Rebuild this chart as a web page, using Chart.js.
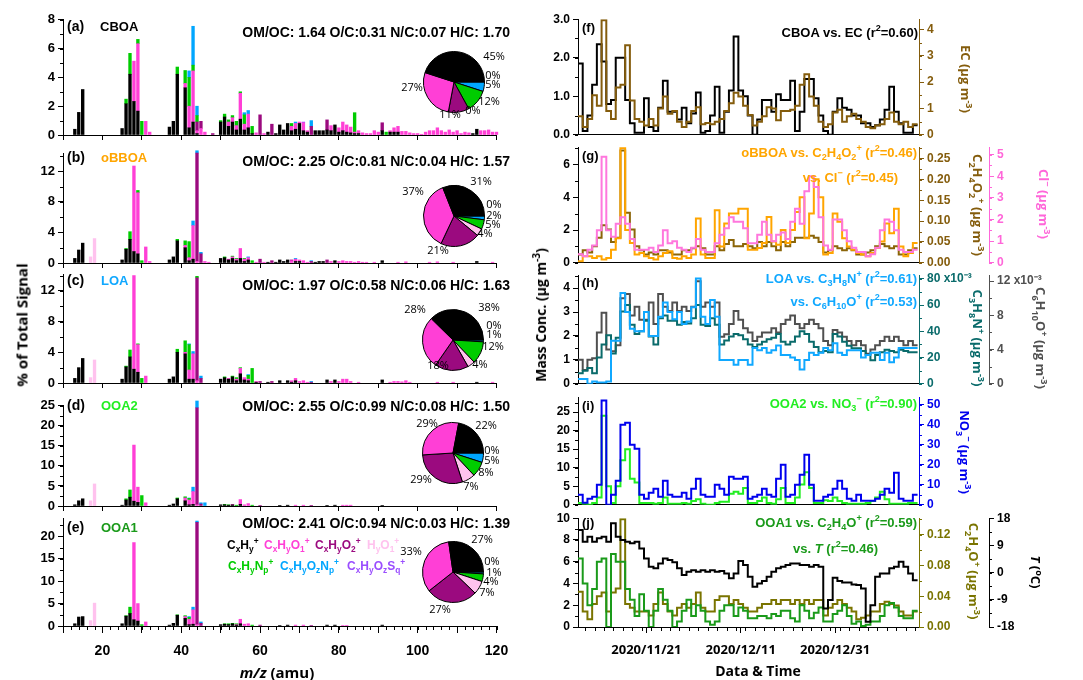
<!DOCTYPE html>
<html>
<head>
<meta charset="utf-8">
<script src="https://cdn.jsdelivr.net/npm/chart.js@4.4.1/dist/chart.umd.min.js"></script>
<style>
  html, body { margin: 0; padding: 0; background: #fff; }
  #page { position: relative; width: 1083px; height: 680px; overflow: hidden; background: #fff;
          font-family: "Liberation Sans", Arial, sans-serif; font-weight: bold; color: #000; }
  canvas { position: absolute; }
  .t { position: absolute; white-space: nowrap; line-height: 1; transform: translateY(-50%); z-index: 2; }
  .r { transform: translate(-100%, -50%); }
  .c { transform: translate(-50%, -50%); }
  .up { transform: translate(-50%, -50%) rotate(-90deg); }
  .dn { transform: translate(-50%, -50%) rotate(90deg); }
  sub, sup { font-size: 70%; line-height: 0; }
  .seg { font-family: "Open Sans", "Noto Sans", sans-serif; }
</style>
</head>
<body>
<div id="page">
  <!-- left column annotations -->
  <div class="t" style="left:67px;top:26px;font-size:14px">(a)</div>
  <div class="t" style="left:100px;top:26px;font-size:13px">CBOA</div>
  <div class="t r" style="left:510px;top:32px;font-size:14px">OM/OC: 1.64 O/C:0.31 N/C:0.07 H/C: 1.70</div>

  <div class="t" style="left:67px;top:157px;font-size:14px">(b)</div>
  <div class="t" style="left:101px;top:157px;font-size:13px;color:#ffa500">oBBOA</div>
  <div class="t r" style="left:510px;top:161px;font-size:14px">OM/OC: 2.25 O/C:0.81 N/C:0.04 H/C: 1.57</div>

  <div class="t" style="left:67px;top:280px;font-size:14px">(c)</div>
  <div class="t" style="left:101px;top:280px;font-size:13px;color:#10a8ff">LOA</div>
  <div class="t r" style="left:510px;top:285px;font-size:14px">OM/OC: 1.97 O/C:0.58 N/C:0.06 H/C: 1.63</div>

  <div class="t" style="left:67px;top:405px;font-size:14px">(d)</div>
  <div class="t" style="left:101px;top:405px;font-size:13px;color:#22ee22">OOA2</div>
  <div class="t r" style="left:510px;top:406px;font-size:14px">OM/OC: 2.55 O/C:0.99 N/C:0.08 H/C: 1.50</div>

  <div class="t" style="left:67px;top:527px;font-size:14px">(e)</div>
  <div class="t" style="left:101px;top:527px;font-size:13px;color:#1a9a1a">OOA1</div>
  <div class="t r" style="left:510px;top:523px;font-size:14px">OM/OC: 2.41 O/C:0.94 N/C:0.03 H/C: 1.39</div>

  <!-- family legend -->
  <div class="t" style="left:227px;top:545px;font-size:12px;color:#000">C<sub>x</sub>H<sub>y</sub><sup>+</sup></div>
  <div class="t" style="left:264px;top:545px;font-size:12px;color:#ff3fd6">C<sub>x</sub>H<sub>y</sub>O<sub>1</sub><sup>+</sup></div>
  <div class="t" style="left:315px;top:545px;font-size:12px;color:#9b0a7f">C<sub>x</sub>H<sub>y</sub>O<sub>2</sub><sup>+</sup></div>
  <div class="t" style="left:367px;top:545px;font-size:12px;color:#ffc2ee">H<sub>y</sub>O<sub>1</sub><sup>+</sup></div>
  <div class="t" style="left:228px;top:566px;font-size:12px;color:#00cc00">C<sub>x</sub>H<sub>y</sub>N<sub>p</sub><sup>+</sup></div>
  <div class="t" style="left:280px;top:566px;font-size:12px;color:#00a6ff">C<sub>x</sub>H<sub>y</sub>O<sub>z</sub>N<sub>p</sub><sup>+</sup></div>
  <div class="t" style="left:347px;top:566px;font-size:12px;color:#9a4dff">C<sub>x</sub>H<sub>y</sub>O<sub>z</sub>S<sub>q</sub><sup>+</sup></div>

  <!-- right column annotations -->
  <div class="t" style="left:582px;top:27px;font-size:13px">(f)</div>
  <div class="t r" style="left:918px;top:32px;font-size:13px">CBOA vs. EC (r<sup>2</sup>=0.60)</div>

  <div class="t" style="left:582px;top:155px;font-size:13px">(g)</div>
  <div class="t r" style="left:917px;top:152px;font-size:13px;color:#ffa500">oBBOA vs. C<sub>2</sub>H<sub>4</sub>O<sub>2</sub><sup>+</sup> (r<sup>2</sup>=0.46)</div>
  <div class="t r" style="left:898px;top:177px;font-size:13px;color:#ffa500">vs. Cl<sup>&minus;</sup> (r<sup>2</sup>=0.45)</div>

  <div class="t" style="left:582px;top:282px;font-size:13px">(h)</div>
  <div class="t r" style="left:917px;top:278px;font-size:13px;color:#10a8ff">LOA vs. C<sub>3</sub>H<sub>8</sub>N<sup>+</sup> (r<sup>2</sup>=0.61)</div>
  <div class="t r" style="left:917px;top:301px;font-size:13px;color:#10a8ff">vs. C<sub>6</sub>H<sub>10</sub>O<sup>+</sup> (r<sup>2</sup>=0.53)</div>

  <div class="t" style="left:582px;top:405px;font-size:13px">(i)</div>
  <div class="t r" style="left:917px;top:403px;font-size:13px;color:#22ee22">OOA2 vs. NO<sub>3</sub><sup>&minus;</sup> (r<sup>2</sup>=0.90)</div>

  <div class="t" style="left:582px;top:522px;font-size:13px">(j)</div>
  <div class="t r" style="left:917px;top:522px;font-size:13px;color:#1a9a1a">OOA1 vs. C<sub>2</sub>H<sub>4</sub>O<sup>+</sup> (r<sup>2</sup>=0.59)</div>
  <div class="t r" style="left:878px;top:548px;font-size:13px;color:#1a9a1a">vs. <i>T</i> (r<sup>2</sup>=0.46)</div>

  <!-- right axis titles -->
  <div class="t dn seg" style="left:965px;top:79px;font-size:13px;color:#845c0c">EC (µg m<sup>-3</sup>)</div>
  <div class="t dn seg" style="left:977px;top:205px;font-size:13px;color:#845c0c">C<sub>2</sub>H<sub>4</sub>O<sub>2</sub><sup>+</sup> (µg m<sup>-3</sup>)</div>
  <div class="t dn seg" style="left:1043px;top:204px;font-size:13px;color:#ff66d9">Cl<sup>&minus;</sup> (µg m<sup>-3</sup>)</div>
  <div class="t dn seg" style="left:977px;top:338px;font-size:13px;color:#0a6b6b">C<sub>3</sub>H<sub>8</sub>N<sup>+</sup> (µg m<sup>-3</sup>)</div>
  <div class="t dn seg" style="left:1040px;top:338px;font-size:13px;color:#505050">C<sub>6</sub>H<sub>10</sub>O<sup>+</sup> (µg m<sup>-3</sup>)</div>
  <div class="t dn seg" style="left:964px;top:452px;font-size:13px;color:#0000ee">NO<sub>3</sub><sup>&minus;</sup> (µg m<sup>-3</sup>)</div>
  <div class="t dn seg" style="left:973px;top:571px;font-size:13px;color:#7a7400">C<sub>2</sub>H<sub>4</sub>O<sup>+</sup> (µg m<sup>-3</sup>)</div>
  <div class="t dn seg" style="left:1035px;top:572px;font-size:13px"><i>T</i> (<sup>o</sup>C)</div>

  <!-- shared axis titles -->
  <div class="t up seg" style="left:22px;top:325px;font-size:15px">% of Total Signal</div>
  <div class="t up seg" style="left:541px;top:315px;font-size:14px">Mass Conc. (µg m<sup>-3</sup>)</div>
  <div class="t c seg" style="left:277px;top:672px;font-size:15px"><i>m/z</i> (amu)</div>
  <div class="t c seg" style="left:758px;top:671px;font-size:14px">Data &amp; Time</div>
</div>

<script>
// ---------- ion families ----------
const famNames  = ['CxHy', 'CxHyO1', 'CxHyO2', 'HyO1', 'CxHyNp', 'CxHyOzNp', 'CxHyOzSq'];
const famColors = ['#000000', '#ff3fd6', '#9b0a7f', '#ffc2ee', '#00cc00', '#00a6ff', '#9a4dff'];

// ---------- mass spectra: [m/z, % of total signal] ----------
// (a) CBOA
const cboaCxHy = [[13,0.4],[14,1.57],[15,3.16],[25,0.45],[26,2.17],[27,4.22],[28,2.33],[29,1.66],[37,0.55],[38,0.95],[39,4.22],[41,3.28],[42,0.5],[43,0.9],[44,0.1],[50,0.9],[51,1.25],[52,0.6],[53,0.9],[54,0.35],[55,1.1],[56,0.35],[57,0.5],[58,0.1],[62,0.2],[64,0.1],[65,0.7],[66,0.35],[67,0.8],[68,0.3],[69,0.4],[70,0.8],[71,0.3],[72,0.2],[74,0.3],[75,0.3],[76,0.3],[77,0.35],[78,0.3],[79,0.7],[80,0.2],[81,0.3],[82,0.2],[83,0.15],[84,0.1],[85,0.1],[91,0.3],[93,0.2],[94,0.2],[95,0.2],[114,0.1],[115,0.4]];
const cboaO1 = [[28,2.8],[29,4.68],[31,0.95],[32,0.2],[41,0.3],[42,1.5],[43,3.55],[44,0.2],[45,0.45],[46,0.2],[52,0.3],[53,0.3],[54,0.3],[55,1.8],[56,0.4],[57,0.95],[59,0.15],[61,0.1],[68,0.3],[69,0.4],[70,0.1],[71,0.55],[72,0.1],[78,0.35],[80,0.3],[81,0.6],[82,0.5],[83,0.4],[84,0.1],[85,0.2],[86,0.15],[87,0.1],[88,0.1],[89,0.3],[90,0.2],[93,0.1],[94,0.3],[95,0.4],[96,0.25],[97,0.25],[98,0.15],[99,0.1],[100,0.1],[101,0.05],[102,0.2],[103,0.3],[104,0.3],[105,0.5],[106,0.3],[107,0.2],[108,0.35],[109,0.2],[110,0.3],[111,0.1],[112,0.2],[113,0.15],[116,0.3],[117,0.3],[118,0.35],[119,0.2],[120,0.2]];
const cboaO2 = [[44,0.6],[45,0.5],[48,0.1],[60,1.4],[63,0.75],[73,0.6],[77,0.7],[91,0.55]];
const cboaHyO1 = [];
const cboaNp = [[26,0.32],[27,1.45],[29,0.3],[30,0.95],[39,0.5],[41,0.9],[42,2.0],[43,0.4],[44,0.45],[50,0.1],[51,0.2],[52,0.15],[53,0.15],[54,0.3],[55,0.1],[56,0.65],[58,0.5],[68,0.2],[84,1.35],[92,0.2]];
const cboaOzNp = [[42,0.45],[43,2.7],[44,0.65],[56,0.15],[57,0.25],[69,0.1],[73,0.4]];
const cboaOzSq = [[71,0.05]];

// (b) oBBOA
const obboaCxHy = [[13,0.6],[14,1.7],[15,2.6],[25,0.4],[26,1.8],[27,3.1],[28,1.5],[29,1.2],[37,0.4],[38,0.8],[39,2.9],[41,2.0],[42,0.3],[43,0.5],[50,0.6],[51,0.7],[52,0.4],[53,0.6],[54,0.3],[55,0.6],[56,0.2],[57,0.4],[62,0.1],[64,0.1],[65,0.4],[66,0.2],[67,0.4],[69,0.2],[70,0.2],[74,0.1],[75,0.2],[76,0.2],[79,0.3],[91,0.3],[115,0.2]];
const obboaO1 = [[28,11.2],[29,8.0],[31,2.1],[32,0.2],[41,0.3],[42,0.4],[43,4.4],[44,0.2],[46,0.2],[47,0.1],[52,0.1],[53,0.2],[54,0.2],[55,1.3],[56,0.3],[57,0.3],[59,0.1],[61,0.1],[68,0.3],[69,0.3],[70,0.2],[71,0.3],[72,0.1],[78,0.2],[80,0.2],[81,0.3],[82,0.2],[83,0.2],[84,0.1],[85,0.2],[86,0.1],[87,0.1],[89,0.1],[95,0.1],[97,0.15],[103,0.1],[105,0.15],[109,0.1],[119,0.1]];
const obboaO2 = [[44,14.2],[45,1.2],[60,0.5],[63,0.3],[68,0.1],[73,0.2],[77,0.4]];
const obboaHyO1 = [[17,0.8],[18,3.2]];
const obboaNp = [[26,0.1],[27,1.0],[29,0.3],[30,0.3],[39,0.2],[41,0.6],[42,2.1],[51,0.1],[53,0.1],[54,0.1],[56,0.1],[58,0.3]];
const obboaOzNp = [[43,0.6],[44,0.3],[45,0.2],[57,0.1],[69,0.1],[73,0.1]];
const obboaOzSq = [];

// (c) LOA
const loaCxHy = [[13,0.6],[14,2.0],[15,3.2],[25,0.5],[26,2.1],[27,3.4],[28,1.8],[29,1.4],[37,0.5],[38,0.8],[39,4.0],[41,3.8],[42,0.5],[43,0.5],[50,0.5],[51,0.7],[52,0.5],[53,0.8],[54,0.3],[55,1.2],[56,0.4],[57,0.3],[59,0.1],[62,0.1],[65,0.3],[67,0.3],[68,0.1],[69,0.3],[77,0.4],[79,0.4],[91,0.4],[115,0.1]];
const loaO1 = [[28,12.2],[29,3.6],[31,0.9],[41,0.2],[42,1.2],[43,3.3],[44,0.3],[52,0.1],[54,0.2],[55,0.7],[56,0.3],[57,0.2],[59,0.1],[68,0.2],[69,0.3],[70,0.2],[71,0.3],[72,0.1],[78,0.2],[80,0.2],[81,0.5],[82,0.5],[83,0.2],[85,0.1],[93,0.1],[94,0.2],[95,0.2],[96,0.15],[97,0.3],[98,0.1],[105,0.1],[109,0.1],[119,0.1]];
const loaO2 = [[44,13.4],[45,0.6],[60,0.2],[63,0.2],[73,0.1]];
const loaHyO1 = [[17,0.7],[18,3.0]];
const loaNp = [[26,0.1],[27,0.9],[29,0.1],[30,0.6],[39,0.4],[41,1.5],[42,3.3],[44,0.2],[51,0.1],[53,0.1],[54,0.2],[55,0.1],[57,0.5],[58,1.9]];
const loaOzNp = [[42,0.1],[43,0.3],[45,0.3],[57,0.1],[73,0.1]];
const loaOzSq = [];

// (d) OOA2
const ooa2CxHy = [[13,0.3],[14,1.3],[15,1.8],[25,0.2],[26,1.5],[27,2.2],[28,1.2],[29,0.9],[37,0.2],[38,0.5],[39,1.8],[41,1.3],[42,0.3],[43,0.4],[50,0.3],[51,0.3],[52,0.2],[53,0.3],[55,0.4],[65,0.1],[67,0.2],[77,0.1],[79,0.2],[91,0.1]];
const ooa2O1 = [[28,14.0],[29,3.8],[31,0.8],[41,0.7],[42,1.2],[43,3.2],[44,0.3],[53,0.1],[55,1.2],[56,0.3],[57,0.6],[69,0.2],[71,0.2],[81,0.2],[82,0.2],[83,0.2]];
const ooa2O2 = [[44,24.2],[45,0.5],[60,0.1],[73,0.1]];
const ooa2HyO1 = [[17,1.3],[18,5.5]];
const ooa2Np = [[26,0.3],[27,1.8],[30,2.6],[39,0.2],[41,0.3],[42,0.4],[51,0.1],[52,0.1],[54,0.2],[58,0.2]];
const ooa2OzNp = [[42,0.1],[43,1.1],[44,1.7],[45,0.3],[46,0.8]];
const ooa2OzSq = [];

// (e) OOA1
const ooa1CxHy = [[13,0.5],[14,2.0],[15,2.1],[25,0.5],[26,2.2],[27,2.8],[28,1.4],[29,1.1],[37,0.2],[38,0.6],[39,2.4],[41,1.7],[42,0.3],[43,0.4],[50,0.3],[51,0.4],[52,0.3],[53,0.5],[54,0.2],[55,0.5],[65,0.1],[67,0.2],[77,0.2],[79,0.2],[91,0.2]];
const ooa1O1 = [[28,17.2],[29,3.9],[31,0.9],[41,0.4],[42,1.2],[43,3.2],[44,0.3],[54,0.1],[55,1.0],[56,0.4],[57,0.5],[69,0.2],[71,0.2],[81,0.1],[82,0.1]];
const ooa1O2 = [[44,22.8],[45,0.6],[60,0.2],[73,0.1]];
const ooa1HyO1 = [[17,1.2],[18,5.1]];
const ooa1Np = [[26,0.1],[27,1.4],[30,0.3],[39,0.1],[41,0.2],[42,0.4],[51,0.1],[52,0.2],[53,0.1],[54,0.2],[58,0.2]];
const ooa1OzNp = [[42,0.2],[43,0.6],[44,0.3],[45,0.3]];
const ooa1OzSq = [];

// ---------- family fractions (%) for the pies ----------
const pieCBOA  = [45, 27, 11, 0, 12, 5, 0];
const pieOBBOA = [31, 37, 21, 4, 5, 2, 0];
const pieLOA   = [38, 28, 18, 4, 12, 1, 0];
const pieOOA2  = [22, 29, 29, 7, 8, 5, 0];
const pieOOA1  = [27, 33, 27, 7, 4, 1, 0];

// ---------- time series (daily, first value starts 2020/11/06 12:00) ----------
const day0 = 6.5;            // x in days of November 2020
const dateTicks = [21, 41, 61];
const cboaTS = [1.85,0.1,0.5,1.3,2.35,1.9,0.8,0.9,2.0,2.0,0.9,0.3, 0.05,0.05,0.95,0.2,0.1,0.7,1.4,0.6,0.6,0.4,0.7,0.3, 0.55,1.1,0.05,0.1,0.5,1.25,0.05,0.6,1.15,2.55,1.15,1.0, 0.5,0.0,0.4,0.9,0.9,0.6,1.05,0.9,0.9,1.4,0.1,0.6, 1.45,1.45,0.95,0.5,0.1,0.0,0.6,0.95,0.7,0.65,0.5,0.5, 0.3,0.3,0.2,0.25,0.4,0.65,1.25,0.6,0.3,0.05,0.05,0.25];
const ecTS = [0.7,0.3,0.6,1.5,1.1,4.35,0.9,0.6,1.8,1.9,3.4,1.3, 0.6,0.5,0.35,0.6,0.35,1.0,1.45,0.8,0.9,0.5,0.3,0.5, 0.9,1.05,0.4,0.45,0.4,0.5,0.6,0.9,1.2,1.6,1.45,1.1, 0.75,0.35,0.5,0.7,1.05,1.0,0.55,0.9,0.9,0.95,1.1,1.9, 2.3,1.45,1.1,0.5,0.3,0.4,0.85,0.95,0.5,0.7,0.8,0.6, 0.5,0.3,0.25,0.35,0.4,0.6,0.85,0.5,0.4,0.5,0.3,0.4];
const obboaTS = [0.1,0.4,0.4,0.3,0.4,0.2,0.3,0.8,1.5,7.0,2.0,1.2, 0.5,0.6,0.4,0.3,0.2,0.4,0.6,0.7,0.3,0.25,0.4,0.3, 0.5,2.7,0.5,0.3,0.3,3.2,1.0,2.4,3.0,3.0,3.3,3.3, 0.8,0.8,0.9,1.2,2.8,1.3,1.1,2.0,1.2,2.0,3.1,4.0, 1.5,3.0,5.1,4.0,0.5,0.6,3.0,2.5,1.5,1.0,0.8,0.6, 0.5,0.4,0.6,0.9,1.3,2.4,1.8,3.3,1.0,0.4,0.6,1.2];
const c2h4o2TS = [0.02,0.03,0.025,0.04,0.06,0.09,0.08,0.05,0.06,0.27,0.12,0.08, 0.04,0.03,0.02,0.025,0.02,0.03,0.03,0.025,0.02,0.02,0.03,0.03, 0.035,0.04,0.035,0.02,0.02,0.04,0.03,0.045,0.055,0.04,0.04,0.045, 0.04,0.035,0.05,0.04,0.05,0.04,0.03,0.05,0.04,0.05,0.06,0.06, 0.06,0.065,0.06,0.05,0.025,0.03,0.04,0.035,0.03,0.035,0.03,0.02, 0.02,0.025,0.03,0.04,0.045,0.04,0.035,0.04,0.02,0.02,0.03,0.035];
const clTS = [0.4,0.3,0.6,0.8,1.5,4.9,1.5,1.2,1.8,2.1,1.8,1.1, 0.6,0.6,0.6,0.7,0.5,0.8,1.5,0.9,1.0,0.7,0.6,0.5, 0.7,1.1,0.6,0.5,0.5,0.9,1.3,1.6,2.1,1.9,1.9,1.6, 0.9,0.9,1.3,1.9,1.3,1.0,1.3,1.4,1.1,1.9,2.5,1.8, 3.3,4.0,3.5,2.1,0.8,0.6,2.0,2.0,1.5,1.0,0.7,0.5, 0.5,0.3,0.4,0.7,1.5,2.0,1.9,1.5,0.6,0.5,0.5,0.6];
const loaTS = [0.2,0.2,0.0,0.1,0.05,0.05,0.1,1.8,1.8,3.8,3.0,2.3, 2.2,2.2,3.0,2.0,2.0,2.8,3.4,3.0,2.7,3.0,2.5,2.6, 3.2,4.4,2.8,2.5,3.5,2.8,1.0,1.0,1.0,0.8,1.0,1.0, 0.8,1.5,1.4,1.5,1.3,1.4,1.6,1.2,1.2,1.1,1.0,0.6, 1.0,1.3,1.2,1.3,1.5,1.4,1.7,1.3,1.2,1.4,1.4,1.4, 1.1,1.2,1.3,1.3,1.0,1.3,0.9,1.1,1.5,1.5,1.5,1.5];
const c3h8nTS = [0.008,0.010,0.012,0.008,0.020,0.030,0.037,0.023,0.035,0.055,0.060,0.045, 0.038,0.040,0.048,0.036,0.030,0.050,0.052,0.048,0.048,0.045,0.047,0.046, 0.050,0.060,0.045,0.044,0.050,0.045,0.030,0.033,0.036,0.038,0.037,0.034, 0.030,0.028,0.030,0.032,0.034,0.035,0.038,0.032,0.030,0.032,0.036,0.040, 0.038,0.032,0.028,0.024,0.025,0.024,0.038,0.036,0.032,0.029,0.027,0.027, 0.025,0.022,0.018,0.022,0.024,0.026,0.025,0.024,0.026,0.025,0.024,0.024];
const c6h10oTS = [0.0028,0.0016,0.0028,0.0030,0.0060,0.0083,0.0040,0.0038,0.0045,0.0100,0.0105,0.0080, 0.0090,0.0075,0.0075,0.0095,0.0070,0.0105,0.0090,0.0085,0.0095,0.0085,0.0090,0.0085, 0.0090,0.0120,0.0090,0.0095,0.0090,0.0095,0.0055,0.0058,0.0070,0.0085,0.0075,0.0065, 0.0060,0.0050,0.0055,0.0060,0.0060,0.0065,0.0060,0.0070,0.0075,0.0080,0.0070,0.0065, 0.0070,0.0075,0.0070,0.0065,0.0050,0.0045,0.0063,0.0060,0.0055,0.0050,0.0045,0.0050, 0.0045,0.0035,0.0040,0.0045,0.0050,0.0055,0.0050,0.0055,0.0050,0.0045,0.0050,0.0045];
const ooa2TS = [0.5,0.3,0.0,0.5,2.0,24.0,5.0,0.5,5.0,12.0,15.0,7.0, 6.0,0.5,0.5,0.5,0.3,0.5,2.0,0.3,0.3,0.3,0.5,0.3, 1.0,1.5,0.3,0.0,0.0,0.5,0.8,0.8,3.0,3.5,3.0,4.5, 0.5,0.5,1.0,2.0,0.5,0.3,1.5,4.5,0.5,0.5,2.0,5.5, 8.8,4.5,0.5,0.5,1.2,1.0,2.0,1.0,0.5,0.3,0.3,0.3, 0.3,0.5,1.0,2.0,3.5,1.5,0.3,0.3,0.3,0.3,0.5,0.5];
const no3TS = [5,1,3,4,10,52,0,5,12,40,41,30, 28,5,3,6,8,4,12,5,4,4,6,3, 8,13,5,4,4,10,8,5,14,13,13,14, 3,4,5,8,5,4,13,20,4,5,10,15, 25,10,2,2,4,5,8,12,8,3,2,5, 2,2,2,3,5,8,6,16,3,2,2,5];
const ooa1TS = [6.3,4.0,2.0,3.5,6.0,6.3,0.0,6.7,6.0,6.0,3.5,2.5, 1.0,3.0,1.5,0.0,1.5,3.5,2.5,1.5,0.0,0.5,1.5,2.5, 1.0,2.0,1.5,0.5,0.2,0.5,1.5,2.0,2.0,1.0,1.8,1.5, 0.8,0.8,1.0,1.0,0.8,1.2,1.0,1.5,1.5,0.8,0.5,2.0, 1.5,0.8,1.3,1.8,0.5,0.5,1.2,1.5,2.0,1.0,0.3,0.5, 0.1,0.2,0.5,0.5,1.0,2.0,2.2,1.8,1.0,0.8,0.8,1.5];
const c2h4oTS = [0.046,0.02,0.01,0.03,0.04,0.045,0.02,0.045,0.05,0.14,0.03,0.025, 0.02,0.02,0.02,0.015,0.03,0.045,0.03,0.02,0.015,0.025,0.03,0.025, 0.03,0.045,0.025,0.02,0.02,0.035,0.04,0.04,0.03,0.035,0.03,0.025, 0.02,0.02,0.025,0.03,0.03,0.035,0.03,0.035,0.035,0.03,0.035,0.03, 0.035,0.03,0.035,0.035,0.015,0.025,0.03,0.035,0.03,0.025,0.02,0.01, 0.012,0.015,0.02,0.02,0.03,0.033,0.03,0.028,0.02,0.015,0.015,0.02];
const tempTS = [14.1,10.2,11.9,10.2,11.4,11.9,10.2,16.3,11.9,10.8,10.2,9.7, 10.2,8.0,4.7,1.9,1.4,3.0,4.7,4.2,3.4,1.4,-0.8,0.3, 0.8,0.3,0.8,0.3,0.8,0.3,0.5,-0.3,-1.9,-0.3,3.8,2.5, -1.4,-4.7,-3.6,-2.8,-1.4,0.3,1.4,1.9,2.5,3.0,3.0,2.5, 2.5,1.9,2.5,1.9,-11.9,-9.1,-1.7,-2.8,-3.3,-3.3,-3.9,-4.1, -5.3,-16.3,-10.8,-1.4,-0.3,-0.3,1.4,1.9,3.6,1.9,-0.3,-2.5];

// ---------- chart helpers ----------
Chart.defaults.font.family = '"Liberation Sans", Arial, sans-serif';
Chart.defaults.font.weight = 'bold';
Chart.defaults.color = '#000';
Chart.defaults.animation = false;

const page = document.getElementById('page');
function addCanvas(left, top, w, h) {
  const c = document.createElement('canvas');
  c.width = w; c.height = h;
  c.style.left = left + 'px'; c.style.top = top + 'px';
  c.style.width = w + 'px'; c.style.height = h + 'px';
  page.appendChild(c);
  return c;
}

// short extra tick marks between the labelled ones
const minorTicks = {
  id: 'minorTicks',
  afterDraw(chart, args, opts) {
    const axes = (opts && opts.axes) || {};
    const ctx = chart.ctx;
    Object.keys(axes).forEach(id => {
      const s = chart.scales[id], m = axes[id];
      if (!s) return;
      ctx.save();
      ctx.strokeStyle = m.color || '#000';
      ctx.lineWidth = 1;
      ctx.beginPath();
      for (let k = Math.ceil(s.min / m.step - 1e-6); k * m.step <= s.max + 1e-9; k++) {
        const p = Math.round(s.getPixelForValue(k * m.step)) + 0.5;
        if (s.isHorizontal()) { ctx.moveTo(p, s.top); ctx.lineTo(p, s.top + m.len); }
        else if (s.position === 'left') { ctx.moveTo(s.right, p); ctx.lineTo(s.right - m.len, p); }
        else { ctx.moveTo(s.left, p); ctx.lineTo(s.left + m.len, p); }
      }
      ctx.stroke();
      ctx.restore();
    });
  }
};

// percentage labels beside the pies; offsets (px from the centre) follow the
// hand-placed labels of the original, in family order
const pieLabelOffsets = {
  cboa:  [[40,-25],[-42,6],[-4,33],[19,29],[35,20],[39,3],[39,-6]],
  obboa: [[27,-34],[-41,-24],[-16,35],[31,18],[39,9],[40,0],[40,-11]],
  loa:   [[36,-32],[-38,-30],[-15,26],[27,25],[40,7],[41,-5],[41,-14]],
  ooa2:  [[33,-27],[-26,-29],[-32,27],[18,34],[33,20],[39,8],[39,-2]],
  ooa1:  [[29,-32],[-42,-20],[-13,38],[34,21],[38,10],[41,1],[39,-10]]
};
const pieLabels = {
  id: 'pieLabels',
  afterDraw(chart, args, opts) {
    const ctx = chart.ctx;
    const arc = chart.getDatasetMeta(0).data[0];
    const vals = opts.values, offs = opts.offsets;
    ctx.save();
    ctx.font = '11px "Open Sans", "Noto Sans", sans-serif';
    ctx.fillStyle = '#000';
    ctx.textAlign = 'center';
    ctx.textBaseline = 'middle';
    vals.forEach((v, i) => ctx.fillText(v + '%', arc.x + offs[i][0], arc.y + offs[i][1]));
    ctx.restore();
  }
};

function axisLine(color) { return { display: true, color: color, width: 1 }; }

function specChart(top, bottom, fams, yMax, yStep, last) {
  const padTop = 10, padBot = 4;
  const xH = last ? 32 : 8;
  const cv = addCanvas(0, top - padTop, 540, bottom - top + padTop + xH + padBot);
  new Chart(cv, {
    type: 'bar',
    data: {
      datasets: fams.map((d, i) => ({
        label: famNames[i],
        data: d.map(([x, y]) => ({ x, y })),
        backgroundColor: famColors[i],
        borderWidth: 0,
        barThickness: 2.7,
        clip: false
      }))
    },
    options: {
      responsive: false,
      devicePixelRatio: 1,
      layout: { padding: { top: padTop, bottom: padBot, left: 0, right: 540 - 496.5 } },
      plugins: {
        legend: { display: false }, tooltip: { enabled: false },
        minorTicks: { axes: Object.assign({ y: { step: yStep / 2, len: 3 } }, last ? { x: { step: 2, len: 4 } } : {}) }
      },
      scales: {
        x: {
          type: 'linear', min: 10, max: 120, offset: false, stacked: true,
          grid: { drawOnChartArea: false, drawTicks: true, tickLength: last ? 7 : 5, color: '#000', offset: false },
          border: axisLine('#000'),
          ticks: { stepSize: 10, includeBounds: false, autoSkip: false, maxRotation: 0, padding: 10,
                   font: { size: 14 }, callback: v => (last && v % 20 === 0) ? v : '' },
          afterFit: s => { s.height = xH; }
        },
        y: {
          min: 0, max: yMax, stacked: true,
          grid: { drawOnChartArea: false, drawTicks: true, tickLength: 5, color: '#000' },
          border: axisLine('#000'),
          ticks: { stepSize: yStep, includeBounds: false, padding: 3, font: { size: 13 } },
          afterFit: s => { s.width = 63; }
        }
      }
    },
    plugins: [minorTicks]
  });
}

function pieChart(cx, cy, values, offsets) {
  const W = 150, H = 110, R = 31;
  const cv = addCanvas(cx - W / 2, cy - H / 2, W, H);
  new Chart(cv, {
    type: 'pie',
    data: {
      labels: famNames.slice().reverse(),
      datasets: [{ data: values.slice().reverse(), backgroundColor: famColors.slice().reverse(),
                   borderColor: '#000', borderWidth: 1 }]
    },
    options: {
      responsive: false, devicePixelRatio: 1, rotation: 90,
      layout: { padding: { left: W / 2 - R, right: W / 2 - R, top: H / 2 - R, bottom: H / 2 - R } },
      plugins: { legend: { display: false }, tooltip: { enabled: false },
                 pieLabels: { values: values, offsets: offsets } }
    },
    plugins: [pieLabels]
  });
}

function steps(vals) {
  const pts = vals.map((v, i) => ({ x: day0 + i, y: v }));
  pts.push({ x: day0 + vals.length, y: vals[vals.length - 1] });
  return pts;
}

function dateLabel(d) {
  const dt = new Date(Date.UTC(2020, 10, d));
  return dt.getUTCFullYear() + '/' + (dt.getUTCMonth() + 1) + '/' + String(dt.getUTCDate()).padStart(2, '0');
}

function tsChart(top, bottom, series, axes, last) {
  const padTop = 10, padBot = 8;
  const xH = last ? 34 : 2;
  const rightAxes = Object.keys(axes).filter(k => k !== 'y');
  const rightW = { y1: 70, y2: 64 };
  let padRight = 543 - (919 - 540);
  rightAxes.forEach(k => { padRight -= rightW[k]; });
  const cv = addCanvas(540, top - padTop, 543, bottom - top + padTop + xH + padBot);
  const scales = {
    x: {
      type: 'linear', min: 6.5, max: 78.8,
      grid: { drawOnChartArea: false, drawTicks: last, tickLength: 6, color: '#000' },
      border: axisLine('#000'),
      afterBuildTicks: s => { s.ticks = dateTicks.map(v => ({ value: v })); },
      ticks: { display: last, autoSkip: false, maxRotation: 0, padding: 9,
               font: { family: '"Open Sans", "Noto Sans", sans-serif', size: 13 },
               callback: v => dateLabel(v) },
      afterFit: s => { s.height = xH; }
    }
  };
  const minor = {};
  if (last) minor.x = { step: 2, len: 4 };
  Object.keys(axes).forEach(k => {
    const a = axes[k];
    const col = a.color || '#000';
    scales[k] = {
      position: k === 'y' ? 'left' : 'right',
      weight: k === 'y2' ? 1 : 0,
      min: a.min || 0, max: a.max,
      grid: { drawOnChartArea: false, drawTicks: true, tickLength: 5, color: col },
      border: axisLine(col),
      ticks: { stepSize: a.step, includeBounds: false, padding: 3, color: col, font: { size: 12 },
               callback: a.fmt || (v => v) },
      afterFit: s => { s.width = k === 'y' ? 38 : rightW[k]; }
    };
    minor[k] = { step: a.step / 2, len: 3, color: col };
  });
  new Chart(cv, {
    type: 'line',
    data: {
      datasets: series.map(s => ({
        data: steps(s.values), borderColor: s.color, borderWidth: 2,
        pointRadius: 0, stepped: true, fill: false, yAxisID: s.axis, order: s.order
      }))
    },
    options: {
      responsive: false, devicePixelRatio: 1,
      layout: { padding: { top: padTop, bottom: padBot, left: 0, right: padRight } },
      plugins: { legend: { display: false }, tooltip: { enabled: false }, minorTicks: { axes: minor } },
      scales
    },
    plugins: [minorTicks]
  });
}

// ---------- left column: mass spectra ----------
specChart(19, 135, [cboaCxHy, cboaO1, cboaO2, cboaHyO1, cboaNp, cboaOzNp, cboaOzSq], 8, 2, false);
specChart(153, 263, [obboaCxHy, obboaO1, obboaO2, obboaHyO1, obboaNp, obboaOzNp, obboaOzSq], 14.3, 4, false);
specChart(274, 383, [loaCxHy, loaO1, loaO2, loaHyO1, loaNp, loaOzNp, loaOzSq], 14.1, 4, false);
specChart(405, 506, [ooa2CxHy, ooa2O1, ooa2O2, ooa2HyO1, ooa2Np, ooa2OzNp, ooa2OzSq], 25, 5, false);
specChart(518, 626, [ooa1CxHy, ooa1O1, ooa1O2, ooa1HyO1, ooa1Np, ooa1OzNp, ooa1OzSq], 23.9, 5, true);

pieChart(454, 82, pieCBOA, pieLabelOffsets.cboa);
pieChart(454, 216, pieOBBOA, pieLabelOffsets.obboa);
pieChart(453, 340, pieLOA, pieLabelOffsets.loa);
pieChart(453, 453, pieOOA2, pieLabelOffsets.ooa2);
pieChart(453, 572, pieOOA1, pieLabelOffsets.ooa1);

// ---------- right column: time series ----------
const brown = '#845c0c', pink = '#ff66d9', teal = '#0a6b6b', grey = '#505050',
      blue = '#0000ee', olive = '#7a7400';

tsChart(19, 135,
  [{ values: cboaTS, color: '#000', axis: 'y', order: 1 },
   { values: ecTS, color: brown, axis: 'y1', order: 0 }],
  { y: { max: 3.0, step: 1, fmt: v => v.toFixed(1) },
    y1: { max: 4.39, step: 1, color: brown } }, false);

tsChart(147, 263,
  [{ values: obboaTS, color: '#ffa500', axis: 'y', order: 1 },
   { values: c2h4o2TS, color: '#8b6508', axis: 'y1', order: 2 },
   { values: clTS, color: '#ff77dd', axis: 'y2', order: 0 }],
  { y: { max: 7.05, step: 2 },
    y1: { max: 0.2778, step: 0.05, color: brown, fmt: v => v.toFixed(2) },
    y2: { max: 5.34, step: 1, color: pink } }, false);

tsChart(275, 384,
  [{ values: loaTS, color: '#10a8ff', axis: 'y', order: 0 },
   { values: c3h8nTS, color: teal, axis: 'y1', order: 1 },
   { values: c6h10oTS, color: grey, axis: 'y2', order: 2 }],
  { y: { max: 4.54, step: 1 },
    y1: { max: 0.0827, step: 0.02, color: teal,
          fmt: v => { const k = Math.round(v * 1000); return k === 80 ? '80 x10⁻³' : k; } },
    y2: { max: 0.0127, step: 0.004, color: grey,
          fmt: v => { const k = Math.round(v * 1000); return k === 12 ? '12 x10⁻³' : k; } } }, false);

tsChart(397, 505,
  [{ values: ooa2TS, color: '#22ee22', axis: 'y', order: 1 },
   { values: no3TS, color: blue, axis: 'y1', order: 0 }],
  { y: { max: 29, step: 5 },
    y1: { max: 53.7, step: 10, color: blue } }, false);

tsChart(518, 627,
  [{ values: ooa1TS, color: '#1a9a1a', axis: 'y', order: 1 },
   { values: c2h4oTS, color: olive, axis: 'y1', order: 2 },
   { values: tempTS, color: '#000', axis: 'y2', order: 0 }],
  { y: { max: 10, step: 2 },
    y1: { max: 0.1415, step: 0.04, color: olive, fmt: v => v.toFixed(2) },
    y2: { min: -18, max: 18, step: 9 } }, true);
</script>
</body>
</html>
